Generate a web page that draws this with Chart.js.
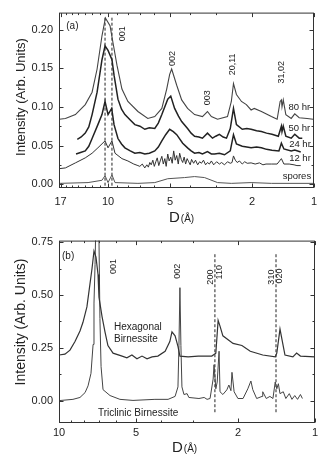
<!DOCTYPE html>
<html>
<head>
<meta charset="utf-8">
<script src="https://cdn.jsdelivr.net/npm/chart.js@4.4.1/dist/chart.umd.min.js"></script>
<style>
  html, body { margin: 0; padding: 0; background: #fff; }
  canvas { display: block; }
</style>
</head>
<body>
<canvas id="chartA" width="325" height="228"></canvas>
<canvas id="chartB" width="325" height="234"></canvas>
<script>
"use strict";

var FONT = "'Liberation Sans', Arial, sans-serif";

// ---- panel (a): [D (A), intensity] ----
var hr80 = [
  [17.25, 0.084], [16.1, 0.085], [14.4, 0.090], [12.9, 0.103], [11.95, 0.119], [11.3, 0.149],
  [10.7, 0.192], [10.3, 0.215], [9.78, 0.205], [9.46, 0.183], [9.05, 0.154], [8.56, 0.123],
  [8.01, 0.107], [7.16, 0.094], [6.41, 0.085], [5.93, 0.0875], [5.48, 0.098], [5.19, 0.123],
  [5.02, 0.142], [4.91, 0.149], [4.64, 0.128], [4.39, 0.109], [4.11, 0.098], [3.80, 0.090],
  [3.48, 0.0875], [3.29, 0.094], [3.15, 0.0875], [2.94, 0.084], [2.63, 0.0875], [2.52, 0.107],
  [2.46, 0.130], [2.38, 0.116], [2.25, 0.107], [2.13, 0.103], [2.02, 0.096], [1.95, 0.098],
  [1.80, 0.094], [1.61, 0.0875], [1.51, 0.084], [1.46, 0.107], [1.44, 0.109], [1.43, 0.100],
  [1.41, 0.109], [1.37, 0.090], [1.29, 0.085], [1.24, 0.091], [1.18, 0.086], [1.08, 0.085],
  [1.01, 0.084]
];
var hr50 = [
  [14.1, 0.058], [13.5, 0.061], [12.9, 0.066], [12.4, 0.074], [11.95, 0.090], [11.3, 0.119],
  [10.7, 0.161], [10.34, 0.179], [10.0, 0.173], [9.57, 0.161], [9.35, 0.141], [8.95, 0.110],
  [8.6, 0.097], [8.28, 0.090], [7.8, 0.083], [7.41, 0.077], [7.0, 0.075], [6.63, 0.071],
  [6.3, 0.073], [5.93, 0.072], [5.7, 0.079], [5.48, 0.090], [5.13, 0.110], [4.96, 0.114],
  [4.75, 0.098], [4.55, 0.088], [4.39, 0.081], [4.11, 0.072], [3.95, 0.066], [3.80, 0.062],
  [3.62, 0.061], [3.48, 0.0595], [3.29, 0.066], [3.11, 0.0595], [3.0, 0.062], [2.88, 0.0645],
  [2.76, 0.061], [2.66, 0.0595], [2.55, 0.072], [2.46, 0.098], [2.38, 0.077], [2.23, 0.071],
  [2.12, 0.072], [2.02, 0.071], [1.90, 0.069], [1.80, 0.068], [1.70, 0.066], [1.60, 0.0645],
  [1.49, 0.062], [1.44, 0.075], [1.43, 0.068], [1.41, 0.075], [1.37, 0.062], [1.29, 0.0595],
  [1.24, 0.0645], [1.18, 0.0595], [1.14, 0.0595]
];
var hr24 = [
  [14.3, 0.039], [13.6, 0.041], [12.9, 0.043], [12.4, 0.049], [11.95, 0.059], [11.2, 0.077],
  [10.7, 0.090], [10.34, 0.107], [10.0, 0.090], [9.6, 0.098], [9.35, 0.077], [8.95, 0.059],
  [8.6, 0.052], [8.28, 0.047], [7.8, 0.043], [7.41, 0.040], [7.0, 0.041], [6.63, 0.039],
  [6.3, 0.040], [5.93, 0.043], [5.7, 0.048], [5.48, 0.056], [5.25, 0.064], [5.02, 0.071],
  [4.82, 0.068], [4.64, 0.064], [4.34, 0.053], [4.11, 0.047], [3.95, 0.043], [3.80, 0.040],
  [3.62, 0.041], [3.48, 0.039], [3.29, 0.042], [3.15, 0.039], [3.04, 0.039], [2.88, 0.040],
  [2.72, 0.038], [2.55, 0.043], [2.46, 0.064], [2.38, 0.052], [2.23, 0.049], [2.12, 0.048],
  [2.02, 0.047], [1.90, 0.048], [1.80, 0.047], [1.70, 0.045], [1.60, 0.044], [1.48, 0.043],
  [1.44, 0.053], [1.40, 0.0455], [1.29, 0.043], [1.24, 0.044], [1.16, 0.0415]
];
var hr12 = [
  [17.25, 0.020], [16.1, 0.021], [14.4, 0.0275], [12.9, 0.034], [11.95, 0.040], [11.2, 0.047],
  [10.34, 0.056], [10.0, 0.047], [9.57, 0.056], [9.25, 0.040], [8.56, 0.033], [8.01, 0.030],
  [7.50, 0.026], [7.16, 0.024], [7.01, 0.023], [6.82, 0.026], [6.63, 0.021], [6.48, 0.025],
  [6.37, 0.022], [6.27, 0.028], [6.17, 0.025], [6.06, 0.031], [5.96, 0.023], [5.86, 0.029],
  [5.77, 0.034], [5.67, 0.024], [5.58, 0.030], [5.48, 0.036], [5.39, 0.026], [5.30, 0.033],
  [5.22, 0.023], [5.13, 0.039], [5.05, 0.030], [4.96, 0.035], [4.88, 0.027], [4.80, 0.043],
  [4.72, 0.031], [4.64, 0.037], [4.56, 0.026], [4.49, 0.040], [4.41, 0.032], [4.34, 0.028],
  [4.27, 0.035], [4.20, 0.026], [4.13, 0.033], [4.06, 0.029], [3.99, 0.025], [3.93, 0.032],
  [3.84, 0.027], [3.76, 0.031], [3.67, 0.025], [3.59, 0.029], [3.52, 0.027], [3.44, 0.031],
  [3.36, 0.025], [3.29, 0.028], [3.22, 0.026], [3.15, 0.030], [3.07, 0.025], [2.97, 0.029],
  [2.88, 0.026], [2.81, 0.028], [2.72, 0.025], [2.63, 0.029], [2.55, 0.027], [2.50, 0.028],
  [2.46, 0.0365], [2.41, 0.031], [2.36, 0.028], [2.30, 0.030], [2.23, 0.026], [2.17, 0.029],
  [2.11, 0.027], [2.02, 0.0275], [1.93, 0.026], [1.84, 0.0275], [1.77, 0.025], [1.71, 0.026],
  [1.61, 0.026], [1.51, 0.026], [1.44, 0.033], [1.40, 0.026], [1.32, 0.026], [1.25, 0.025],
  [1.21, 0.024], [1.16, 0.024]
];
var spores = [
  [17.25, 0.001], [12.5, 0.002], [10.7, 0.005], [10.34, 0.011], [10.0, 0.002], [9.57, 0.012],
  [9.25, 0.002], [7.16, 0.001], [5.93, 0.002], [5.13, 0.007], [4.25, 0.0085], [3.80, 0.0098],
  [3.40, 0.0085], [2.94, 0.002], [2.52, 0.001], [2.02, 0.002], [1.61, 0.001], [1.01, 0.001]
];
var dashA1 = [[10.34, -0.002], [10.34, 0.217]];
var dashA2 = [[9.57, -0.002], [9.57, 0.217]];

// ---- panel (b) ----
var hexagonal = [
  [10, 0.216], [9.48, 0.220], [9.06, 0.239], [8.66, 0.280], [8.28, 0.330], [8.06, 0.371],
  [7.78, 0.444], [7.63, 0.521], [7.43, 0.626], [7.30, 0.709], [7.17, 0.680], [7.04, 0.598],
  [6.98, 0.490], [6.79, 0.398], [6.61, 0.325], [6.44, 0.261], [6.15, 0.225], [5.67, 0.211],
  [5.43, 0.203], [5.19, 0.216], [4.96, 0.198], [4.74, 0.211], [4.53, 0.198], [4.33, 0.207],
  [4.11, 0.211], [3.85, 0.234], [3.69, 0.280], [3.62, 0.326], [3.52, 0.307], [3.43, 0.257],
  [3.37, 0.211], [3.13, 0.207], [2.86, 0.211], [2.53, 0.211], [2.44, 0.225], [2.39, 0.380],
  [2.35, 0.353], [2.29, 0.307], [2.09, 0.271], [1.93, 0.261], [1.79, 0.234], [1.60, 0.216],
  [1.43, 0.207], [1.41, 0.225], [1.37, 0.339], [1.33, 0.257], [1.31, 0.216], [1.22, 0.207],
  [1.18, 0.225], [1.14, 0.211], [1.0, 0.207]
];
var triclinic = [
  [10, 0.0], [8.82, 0.006], [8.28, 0.015], [7.91, 0.038], [7.70, 0.070], [7.50, 0.129],
  [7.36, 0.266], [7.30, 0.462], [7.23, 0.645], [7.14, 1.0], [6.98, 0.77], [6.92, 0.389],
  [6.85, 0.161], [6.73, 0.052], [6.32, 0.024], [5.78, 0.006], [5.14, 0.001], [4.22, 0.006],
  [3.75, 0.006], [3.52, 0.020], [3.43, 0.065], [3.40, 0.261], [3.37, 0.535], [3.34, 0.261],
  [3.31, 0.065], [3.25, 0.029], [3.16, 0.033], [3.11, 0.015], [2.84, 0.010], [2.71, 0.015],
  [2.64, 0.006], [2.57, 0.010], [2.50, 0.102], [2.48, 0.170], [2.44, 0.056], [2.41, 0.088],
  [2.37, 0.234], [2.35, 0.042], [2.29, 0.029], [2.21, 0.051], [2.17, 0.074], [2.13, 0.047],
  [2.11, 0.134], [2.07, 0.042], [2.00, 0.010], [1.91, 0.010], [1.83, 0.056], [1.78, 0.093],
  [1.75, 0.052], [1.69, 0.010], [1.61, 0.020], [1.60, 0.042], [1.55, 0.010], [1.50, 0.020],
  [1.46, 0.010], [1.43, 0.088], [1.41, 0.056], [1.39, 0.080], [1.37, 0.033], [1.33, 0.042],
  [1.30, 0.010], [1.26, 0.033], [1.23, 0.006], [1.20, 0.024], [1.17, 0.006], [1.14, 0.029],
  [1.12, 0.010]
];
var dashB1 = [[2.46, -0.055], [2.46, 0.70]];
var dashB2 = [[1.42, -0.055], [1.42, 0.70]];

// ticks
var xMajorA = [17, 10, 5, 2, 1];
var xMinorA = [16, 15, 14, 13, 12, 11, 9, 8, 7, 6, 4, 3];
var yMajorA = [0, 0.05, 0.1, 0.15, 0.2];
var yMinorA = [0.025, 0.075, 0.125, 0.175];
var xMajorB = [10, 5, 2, 1];
var xMinorB = [9, 8, 7, 6, 4, 3];
var yMajorB = [0, 0.25, 0.5, 0.75];
var yMinorB = [0.125, 0.375, 0.625];

var notesA = [
  { text: "(a)", x: 15.95, y: 0.2047, size: 10, align: "left" },
  { text: "001", x: 8.46, y: 0.1945, size: 9, rot: true },
  { text: "002", x: 4.85, y: 0.1627, size: 9, rot: true },
  { text: "003", x: 3.29, y: 0.1117, size: 9, rot: true },
  { text: "20,11", x: 2.49, y: 0.155, size: 9, rot: true },
  { text: "31,02", x: 1.43, y: 0.1448, size: 9, rot: true },
  { text: "80 hr", x: 1.33, y: 0.099, size: 9.5, align: "left" },
  { text: "50 hr", x: 1.33, y: 0.072, size: 9.5, align: "left" },
  { text: "24 hr", x: 1.32, y: 0.052, size: 9.5, align: "left" },
  { text: "12 hr", x: 1.32, y: 0.0327, size: 9.5, align: "left" },
  { text: "spores", x: 1.42, y: 0.0098, size: 9.5, align: "left" }
];
var notesB = [
  { text: "(b)", x: 9.73, y: 0.686, size: 10, align: "left" },
  { text: "001", x: 6.10, y: 0.635, size: 9, rot: true },
  { text: "002", x: 3.43, y: 0.613, size: 9, rot: true },
  { text: "200", x: 2.57, y: 0.585, size: 9, rot: true },
  { text: "110", x: 2.35, y: 0.608, size: 9, rot: true },
  { text: "310", x: 1.485, y: 0.585, size: 9, rot: true },
  { text: "020", x: 1.37, y: 0.590, size: 9, rot: true },
  { text: "Hexagonal", x: 6.10, y: 0.349, size: 10, align: "left" },
  { text: "Birnessite", x: 6.10, y: 0.289, size: 10, align: "left" },
  { text: "Triclinic Birnessite", x: 7.04, y: -0.062, size: 10, align: "left" }
];

var toXY = function(pairs) {
  return pairs.map(function(p) { return { x: p[0], y: p[1] }; });
};

var curve = function(pairs, color, width, dash) {
  return {
    data: toXY(pairs),
    borderColor: color,
    borderWidth: width,
    borderDash: dash || [],
    pointRadius: 0,
    tension: 0,
    fill: false
  };
};

// frame, inward ticks, annotations and axis titles
var decorate = {
  id: "decorate",
  afterDraw: function(chart, args, o) {
    var ctx = chart.ctx;
    var area = chart.chartArea;
    var xs = chart.scales.x;
    var ys = chart.scales.y;
    var L = area.left + 0.5, R = area.right - 0.5, T = area.top + 0.5, B = area.bottom - 0.5;
    ctx.save();
    ctx.strokeStyle = "#333";
    ctx.lineWidth = 1;
    ctx.strokeRect(L, T, R - L, B - T);
    ctx.beginPath();
    var xTick = function(v, len) {
      var px = Math.round(xs.getPixelForValue(v)) + 0.5;
      ctx.moveTo(px, B); ctx.lineTo(px, B - len);
      ctx.moveTo(px, T); ctx.lineTo(px, T + len);
    };
    var yTick = function(v, len) {
      var py = Math.round(ys.getPixelForValue(v)) + 0.5;
      ctx.moveTo(L, py); ctx.lineTo(L + len, py);
      ctx.moveTo(R, py); ctx.lineTo(R - len, py);
    };
    o.xMajor.forEach(function(v) { xTick(v, 4); });
    o.xMinor.forEach(function(v) { xTick(v, 2); });
    o.yMajor.forEach(function(v) { yTick(v, 4); });
    o.yMinor.forEach(function(v) { yTick(v, 2); });
    ctx.stroke();

    ctx.fillStyle = "#222";
    o.notes.forEach(function(n) {
      ctx.save();
      ctx.font = n.size + "px " + FONT;
      ctx.translate(xs.getPixelForValue(n.x), ys.getPixelForValue(n.y));
      if (n.rot) ctx.rotate(-Math.PI / 2);
      ctx.textAlign = n.align || "center";
      ctx.textBaseline = "middle";
      ctx.fillText(n.text, 0, 0);
      ctx.restore();
    });

    // y title
    ctx.save();
    ctx.font = o.yTitle.size + "px " + FONT;
    ctx.translate(o.yTitle.x, o.yTitle.y);
    ctx.rotate(-Math.PI / 2);
    ctx.textAlign = "center";
    ctx.textBaseline = "alphabetic";
    ctx.fillText("Intensity (Arb. Units)", 0, 0);
    ctx.restore();

    // x title: D(Å)
    ctx.textAlign = "left";
    ctx.textBaseline = "alphabetic";
    ctx.font = "15px " + FONT;
    ctx.fillText("D", o.xTitle.x, o.xTitle.y);
    var w = ctx.measureText("D").width;
    ctx.font = "10px " + FONT;
    ctx.fillText("(\u00C5)", o.xTitle.x + w + 1, o.xTitle.y);
    ctx.restore();
  }
};

var makeChart = function(id, cfg) {
  return new Chart(document.getElementById(id), {
    type: "line",
    data: { datasets: cfg.datasets },
    options: {
      responsive: false,
      animation: false,
      events: [],
      layout: { padding: { left: 0, right: cfg.padRight, top: cfg.padTop, bottom: 0 } },
      plugins: {
        legend: { display: false },
        tooltip: { enabled: false },
        decorate: cfg.deco
      },
      scales: {
        x: {
          type: "logarithmic",
          reverse: true,
          min: cfg.xMin,
          max: cfg.xMax,
          grid: { display: false, drawTicks: false },
          border: { display: false },
          ticks: {
            autoSkip: false,
            maxRotation: 0,
            padding: cfg.xPad,
            color: "#222",
            font: { family: FONT, size: 11 },
            callback: function(v) { return String(v); }
          },
          afterBuildTicks: function(s) {
            s.ticks = cfg.deco.xMajor.map(function(v) { return { value: v }; });
          },
          afterFit: function(s) { s.height = cfg.xHeight; }
        },
        y: {
          type: "linear",
          min: cfg.yMin,
          max: cfg.yMax,
          grid: { display: false, drawTicks: false },
          border: { display: false },
          ticks: {
            padding: 6,
            color: "#222",
            font: { family: FONT, size: 11 },
            callback: function(v) { return Number(v).toFixed(2); }
          },
          afterBuildTicks: function(s) {
            s.ticks = cfg.deco.yMajor.map(function(v) { return { value: v }; });
          },
          afterFit: function(s) { s.width = 59; }
        }
      }
    },
    plugins: [decorate]
  });
};

makeChart("chartA", {
  datasets: [
    curve(hr80, "#444", 1.1),
    curve(hr50, "#222", 1.5),
    curve(hr24, "#222", 1.5),
    curve(hr12, "#333", 1),
    curve(spores, "#555", 1),
    curve(dashA1, "#222", 1, [3, 2]),
    curve(dashA2, "#222", 1, [3, 2])
  ],
  xMin: 1, xMax: 17.3, yMin: -0.005, yMax: 0.222,
  padTop: 9, padRight: 11, xHeight: 40, xPad: 7,
  deco: {
    xMajor: xMajorA, xMinor: xMinorA, yMajor: yMajorA, yMinor: yMinorA,
    notes: notesA,
    yTitle: { x: 25, y: 97, size: 13 },
    xTitle: { x: 169, y: 222 }
  }
});

makeChart("chartB", {
  datasets: [
    curve(hexagonal, "#333", 1.2),
    curve(triclinic, "#444", 1),
    curve(dashB1, "#222", 1, [3, 2]),
    curve(dashB2, "#222", 1, [3, 2])
  ],
  xMin: 1, xMax: 10, yMin: -0.106, yMax: 0.758,
  padTop: 5, padRight: 10, xHeight: 39, xPad: 3,
  deco: {
    xMajor: xMajorB, xMinor: xMinorB, yMajor: yMajorB, yMinor: yMinorB,
    notes: notesB,
    yTitle: { x: 25, y: 94, size: 14 },
    xTitle: { x: 172, y: 224 }
  }
});
</script>
</body>
</html>
